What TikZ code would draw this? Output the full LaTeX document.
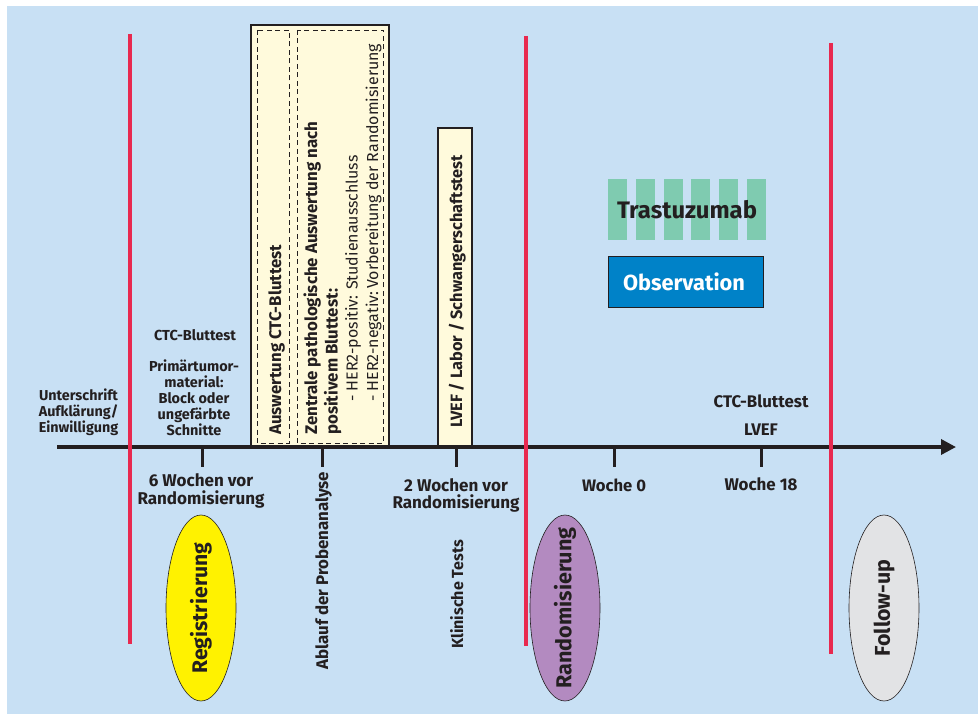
\documentclass[tikz,border=0pt]{standalone}
\usepackage{fontspec}
\setmainfont{Fira Sans}
\usetikzlibrary{arrows.meta,shapes.geometric}
\definecolor{bgblue}{HTML}{C8E0F4}
\definecolor{phase}{HTML}{E8294F}
\definecolor{ink}{HTML}{231F20}
\definecolor{cream}{HTML}{FFFADC}
\definecolor{stripe}{HTML}{7FCBB0}
\definecolor{obsblue}{HTML}{0082C8}
\definecolor{regyellow}{HTML}{FFF200}
\definecolor{randviolet}{HTML}{B38AC0}
\definecolor{fugrey}{HTML}{E2E3E5}
% font size chosen so that a sample string gets a given width
\newlength\fitlen
\newcommand\fitfont[3]{%
  \settowidth\fitlen{\fontsize{10}{12}\selectfont #2}%
  \pgfmathsetmacro\fitfs{10*#1/\fitlen}%
  \fontsize{\fitfs}{#3}\selectfont}
\begin{document}
\begin{tikzpicture}[x=1pt,y=-1pt,
  txt/.style={text=ink,inner sep=0pt,anchor=base},
  vtxt/.style={text=ink,inner sep=0pt,anchor=base west,rotate=90},
  leftf/.style={font=\bfseries\fitfont{79}{Unterschrift}{16}},
  tumorf/.style={font=\bfseries\fitfont{90}{Primärtumor-}{16}},
  ctcf/.style={font=\bfseries\fitfont{82}{CTC-Bluttest}{16}},
  weekf/.style={font=\bfseries\fitfont{127}{Randomisierung}{16}},
  rightf/.style={font=\bfseries\fitfont{95}{CTC-Bluttest}{16}},
  phaseline/.style={phase,line width=3.5pt},
  tick/.style={ink,line width=3pt},
  panel/.style={draw=ink,fill=cream,line width=1.8pt},
  inner/.style={draw=ink,dash pattern=on 5pt off 3.5pt,line width=0.8pt},
  oval/.style={ellipse,draw=ink,line width=0.6pt,minimum width=70pt,minimum height=186pt,inner sep=0pt},
  ovaltext/.style={text=ink,rotate=90,inner sep=0pt}]
\useasboundingbox (0,0) rectangle (978,714);
\fill[white] (0,0) rectangle (978,714);
\fill[bgblue] (7,6) rectangle (978,714);

% phase boundaries
\coordinate (p1a) at (130,34);  \coordinate (p1b) at (130,644);
\coordinate (p2a) at (526,36);  \coordinate (p2b) at (526,646);
\coordinate (p3a) at (831,43);  \coordinate (p3b) at (831,654);

% sample analysis panel
\draw[panel] (251,25) rectangle (389,447);
\draw[inner] (257,30) rectangle (289,443);
\draw[inner] (297,30) rectangle (383,443);
\node[vtxt,font=\bfseries\fitfont{190}{Auswertung CTC-Bluttest}{16}] (ctceval) at (281,435) {Auswertung CTC-Bluttest};
\node[vtxt,font=\bfseries\fitfont{313}{Zentrale pathologische Auswertung nach}{16}] (patho1) at (317,435) {Zentrale pathologische Auswertung nach};
\node[vtxt,font=\bfseries\fitfont{313}{Zentrale pathologische Auswertung nach}{16}] (patho2) at (337.5,435) {positivem Bluttest:};
\node[vtxt,font=\fitfont{358}{- HER2-negativ:\,Vorbereitung der Randomisierung}{16}] (patho3) at (357.5,402) {- HER2-positiv: Studienausschluss};
\node[vtxt,font=\fitfont{358}{- HER2-negativ:\,Vorbereitung der Randomisierung}{16}] (patho4) at (378,402) {- HER2-negativ:\,Vorbereitung der Randomisierung};

% clinical tests panel
\draw[panel] (438,128) rectangle (472,447);
\node[vtxt,font=\bfseries\fitfont{273}{LVEF / Labor / Schwangerschaftstest}{16}] (lvefbox) at (462,428) {LVEF / Labor / Schwangerschaftstest};

% treatment arms
\foreach \sx in {608,636,664,691,719,747}
  \fill[stripe] (\sx,179) rectangle ++(19,61);
\node[txt,font=\bfseries\fitfont{140}{Trastuzumab}{20}] (tras) at (687,219) {Trastuzumab};
\node[draw=ink,fill=obsblue,line width=0.8pt,minimum width=155pt,minimum height=51pt,inner sep=0pt] (obs) at (685.5,281.5) {};
\node[txt,text=white,font=\bfseries\fitfont{122}{Observation}{20}] (obstext) at (684,290.5) {Observation};

% time axis
\coordinate (axs) at (57,447);
\coordinate (axe) at (956,447);
\draw[ink,line width=3.5pt,-{Triangle[length=15pt,width=15pt]}] (axs) -- (axe);
\foreach \n/\tx in {t1/202,t2/322,t3/456,t4/614,t5/761}{
  \coordinate (\n a) at (\tx,447);
  \coordinate (\n b) at (\tx,467);
  \draw[tick] (\n a) -- (\n b);
}

\draw[phaseline] (p1a) -- (p1b);
\draw[phaseline] (p2a) -- (p2b);
\draw[phaseline] (p3a) -- (p3b);

% labels above the axis
\node[txt,leftf] (cons1) at (78.5,400) {Unterschrift};
\node[txt,leftf] (cons2) at (78.5,416) {Aufklärung/};
\node[txt,leftf] (cons3) at (78.5,432) {Einwilligung};
\node[txt,ctcf] (ctc1) at (195,341) {CTC-Bluttest};
\node[txt,tumorf] (tum1) at (194,371) {Primärtumor-};
\node[txt,tumorf] (tum2) at (194,387) {material:};
\node[txt,tumorf] (tum3) at (194,403) {Block oder};
\node[txt,tumorf] (tum4) at (194,419) {ungefärbte};
\node[txt,tumorf] (tum5) at (194,435) {Schnitte};
\node[txt,rightf] (ctc2) at (761,407) {CTC-Bluttest};
\node[txt,rightf] (lvef2) at (761,435) {LVEF};

% labels below the axis
\node[txt,weekf] (w6a) at (201,486) {6 Wochen vor};
\node[txt,weekf] (w6b) at (201,504) {Randomisierung};
\node[vtxt,font=\bfseries\fitfont{198}{Ablauf der Probenanalyse}{16}] (ablauf) at (328,670) {Ablauf der Probenanalyse};
\node[txt,weekf] (w2a) at (456,491) {2 Wochen vor};
\node[txt,weekf] (w2b) at (456,508) {Randomisierung};
\node[vtxt,font=\bfseries\fitfont{109}{Klinische Tests}{16}] (klin) at (463,649) {Klinische Tests};
\node[txt,font=\bfseries\fitfont{64}{Woche 0}{16}] (w0) at (614,491.5) {Woche 0};
\node[txt,font=\bfseries\fitfont{73}{Woche 18}{16}] (w18) at (761,490.5) {Woche 18};

% study phases
\node[oval,fill=regyellow] (reg) at (201,608) {};
\node[ovaltext,font=\bfseries\fitfont{131}{Registrierung}{20}] (regtext) at (reg) {Registrierung};
\node[oval,fill=randviolet] (rand) at (565,608) {};
\node[ovaltext,font=\bfseries\fitfont{161}{Randomisierung}{20}] (randtext) at (rand) {Randomisierung};
\node[oval,fill=fugrey] (fu) at (884,608) {};
\node[ovaltext,font=\bfseries\fitfont{97}{Follow-up}{20}] (futext) at (fu) {Follow-up};
\end{tikzpicture}
\end{document}
